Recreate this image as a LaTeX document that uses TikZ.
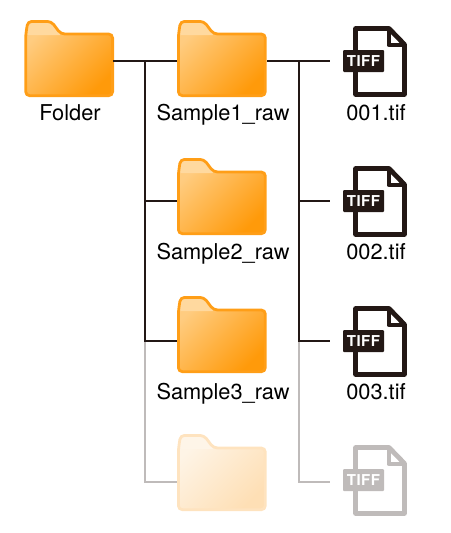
\documentclass[tikz,border=0pt]{standalone}
\usepackage{fontspec}
\setmainfont{TeX Gyre Heros}

\definecolor{mainline}{HTML}{FF9E17}
\definecolor{mainlight}{HTML}{FFCC80}
\definecolor{maindark}{HTML}{FF9A0A}
\definecolor{maintab}{HTML}{FFD99F}
\definecolor{fadedline}{HTML}{FEE3BF}
\definecolor{fadedlight}{HTML}{FEF4E6}
\definecolor{fadeddark}{HTML}{FEDFB5}
\definecolor{fadedtab}{HTML}{FEF5E8}
\definecolor{mainfile}{HTML}{231815}
\definecolor{fadedfile}{HTML}{BFBBBA}

\tikzset{
	wire/.style={draw=mainfile,line width=1.4pt},
	fadedwire/.style={draw=fadedfile,line width=1.4pt},
	label/.style={anchor=base,inner sep=0pt,font=\fontsize{21.8}{26}\selectfont},
	folder/.pic={
		\shade[rounded corners=4pt,left color=#1light,right color=#1dark,shading angle=45]
			(1.4,15) -- (3.5,1.4) -- (27,1.4) -- (36.5,14) -- (88.3,14) -- (88.3,75.7) -- (1.4,75.7) -- cycle;
		\fill[#1tab,rounded corners=1pt] (1.9,15) -- (3.5,1.4) -- (27,1.4) -- (36.5,15) -- cycle;
		\draw[#1line,line width=2.8pt,rounded corners=4pt]
			(1.4,15) -- (3.5,1.4) -- (27,1.4) -- (36.5,14) -- (88.3,14) -- (88.3,75.7) -- (1.4,75.7) -- cycle;
	},
	tiff/.pic={
		\draw[#1file,line width=4.8pt,line join=round]
			(12.5,24) -- (12.5,2.5) -- (46,2.5) -- (61.5,18.5) -- (61.5,68.5) -- (12.5,68.5) -- (12.5,46);
		\draw[#1file,line width=4pt,line join=round] (45.5,3) -- (45.5,19) -- (61.5,19);
		\fill[#1file,rounded corners=1pt] (0,24) rectangle (41,46);
		\node[white,font=\fontsize{15}{18}\bfseries\addfontfeature{LetterSpace=3}\selectfont,inner sep=0pt] at (20.5,35) {TIFF};
	},
}

\begin{document}
\begin{tikzpicture}[x=1pt,y=-1pt]
	\useasboundingbox (0,0) rectangle (450,533);

	% folders
	\pic at (24.3,20) {folder=main};
	\foreach \top/\tone in {20/main,158/main,296/main,434/faded} {
		\pic at (177,\top) {folder=\tone};
	}
	% files
	\foreach \top/\tone in {26/main,166/main,306/main,445/faded} {
		\pic at (343,\top) {tiff=\tone};
	}

	\node[label] (rootlabel) at (70,120) {Folder};
	\foreach \n/\base in {1/120,2/259,3/399} {
		\node[label] (sample\n) at (223,\base) {Sample\n\_raw};
		\node[label] (tif\n) at (376,\base) {00\n.tif};
	}

	\foreach \n/\y in {1/61,2/201,3/341,4/482} {
		\coordinate (lbus\n) at (145,\y);
		\coordinate (rbus\n) at (299,\y);
		\coordinate (in\n) at (177,\y);
		\coordinate (end\n) at (330,\y);
	}
	\coordinate (rootout) at (113,61);
	\coordinate (out1) at (267,61);

	\draw[fadedwire] (lbus3) -- (lbus4) -- (in4);
	\draw[fadedwire] (rbus3) -- (rbus4) -- (end4);
	\draw[wire] (rootout) -- (in1);
	\draw[wire] (out1) -- (end1);
	\draw[wire] (lbus1) -- (lbus3) -- (in3);
	\draw[wire] (rbus1) -- (rbus3) -- (end3);
	\draw[wire] (lbus2) -- (in2);
	\draw[wire] (rbus2) -- (end2);
\end{tikzpicture}
\end{document}
